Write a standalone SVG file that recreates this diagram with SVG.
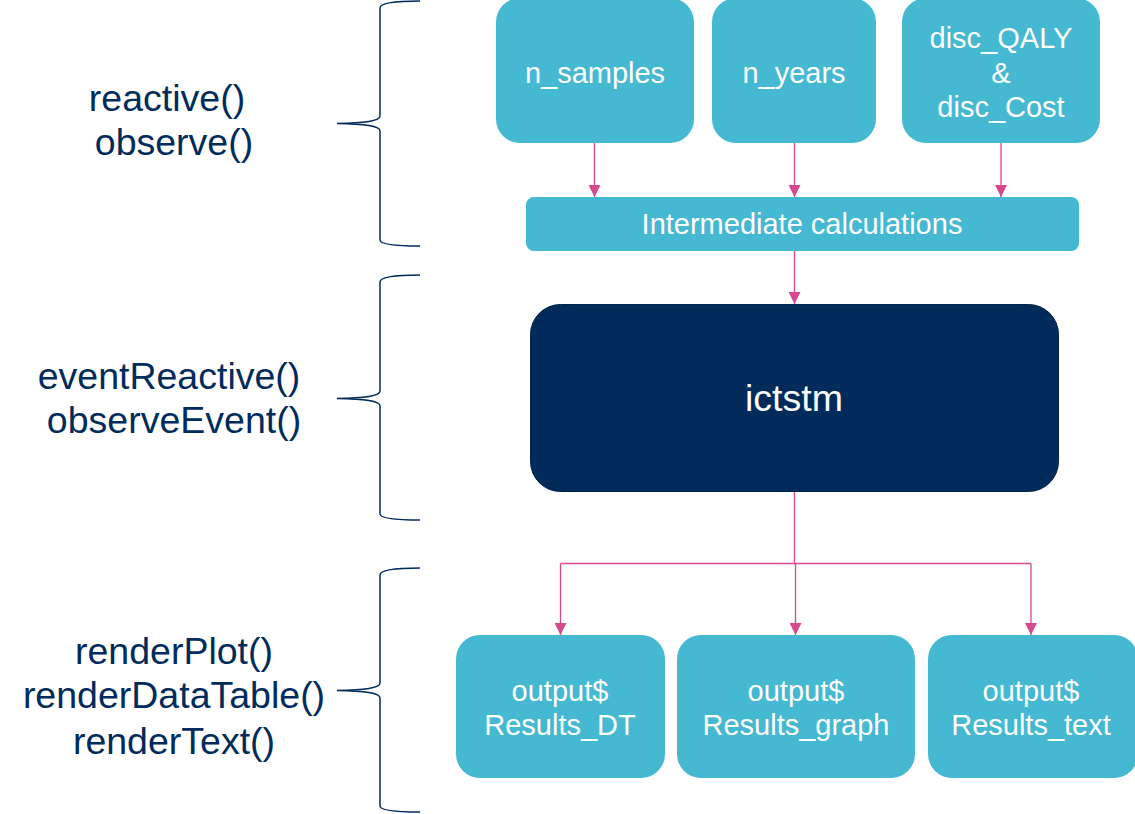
<svg xmlns="http://www.w3.org/2000/svg" width="1135" height="814" viewBox="0 0 1135 814">
  <style>
    .lbl { font-family: "Liberation Sans", Arial, sans-serif; font-size: 37.5px; fill: #002B5C; text-anchor: middle; }
    .box { fill: #45B8D2; }
    .btxt { font-family: "Liberation Sans", Arial, sans-serif; font-size: 29px; fill: #ffffff; text-anchor: middle; }
    .brace { fill: none; stroke: #002B5C; stroke-width: 1.5; }
    .conn { fill: none; stroke: #D6498F; stroke-width: 1.3; }
  </style>
  <defs>
    <marker id="arr" viewBox="0 0 12 12" refX="12" refY="6" markerWidth="12" markerHeight="12" markerUnits="userSpaceOnUse" orient="auto">
      <path d="M0,0 L12,6 L0,12 Z" fill="#D6498F"/>
    </marker>
  </defs>
  <rect width="1135" height="814" fill="#ffffff"/>

  <g id="labels">
    <text class="lbl" x="167" y="111">reactive()</text>
    <text class="lbl" x="174" y="155">observe()</text>
    <text class="lbl" x="169" y="389">eventReactive()</text>
    <text class="lbl" x="174" y="433">observeEvent()</text>
    <text class="lbl" x="174" y="664">renderPlot()</text>
    <text class="lbl" x="174" y="708">renderDataTable()</text>
    <text class="lbl" x="174" y="754">renderText()</text>
  </g>

  <g id="braces">
    <path class="brace" d="M420,1 C395,1 380,3 380,8 L380,116 C380,121 365,123 337,123.5 C365,124 380,126 380,131 L380,240 C380,244 395,246 420,246"/>
    <path class="brace" d="M420,275 C395,275 380,277 380,282 L380,391 C380,396 365,398 337,398.5 C365,399 380,401 380,406 L380,514 C380,518 395,520 420,520"/>
    <path class="brace" d="M420,568 C395,568 380,570 380,575 L380,683 C380,688 365,690 337,690.5 C365,691 380,693 380,698 L380,806 C380,810 395,812 420,812"/>
  </g>

  <g id="connectors">
    <path class="conn" d="M594.5,143 L594.5,197" marker-end="url(#arr)"/>
    <path class="conn" d="M794.5,143 L794.5,197" marker-end="url(#arr)"/>
    <path class="conn" d="M1001,143 L1001,197" marker-end="url(#arr)"/>
    <path class="conn" d="M794.5,251 L794.5,304" marker-end="url(#arr)"/>
    <path class="conn" d="M794.5,492 L794.5,563.5"/>
    <path class="conn" d="M560.5,563.5 L1031,563.5"/>
    <path class="conn" d="M560.5,563.5 L560.5,635" marker-end="url(#arr)"/>
    <path class="conn" d="M795.5,563.5 L795.5,635" marker-end="url(#arr)"/>
    <path class="conn" d="M1031,563.5 L1031,635" marker-end="url(#arr)"/>
  </g>

  <g id="n_samples">
    <rect class="box" x="496" y="-2" width="198" height="145" rx="24"/>
    <text class="btxt" x="595" y="83">n_samples</text>
  </g>
  <g id="n_years">
    <rect class="box" x="712" y="-2" width="164" height="145" rx="24"/>
    <text class="btxt" x="794" y="83">n_years</text>
  </g>
  <g id="disc">
    <rect class="box" x="902" y="-2" width="198" height="145" rx="24"/>
    <text class="btxt" x="1001" y="48">disc_QALY</text>
    <text class="btxt" x="1001" y="83">&amp;</text>
    <text class="btxt" x="1001" y="117">disc_Cost</text>
  </g>
  <g id="intermediate">
    <rect class="box" x="526" y="197" width="553" height="54" rx="8"/>
    <text class="btxt" x="802" y="234">Intermediate calculations</text>
  </g>
  <g id="ictstm">
    <rect x="530.5" y="304.5" width="528" height="187" rx="30" fill="#012B5A" stroke="#00224A" stroke-width="1"/>
    <text x="794" y="411" font-family="Liberation Sans, Arial, sans-serif" font-size="37.5" fill="#ffffff" text-anchor="middle">ictstm</text>
  </g>
  <g id="out_dt">
    <rect class="box" x="456" y="635" width="209" height="143" rx="24"/>
    <text class="btxt" x="560" y="701">output$</text>
    <text class="btxt" x="560" y="735">Results_DT</text>
  </g>
  <g id="out_graph">
    <rect class="box" x="677" y="635" width="238" height="143" rx="24"/>
    <text class="btxt" x="796" y="701">output$</text>
    <text class="btxt" x="796" y="735">Results_graph</text>
  </g>
  <g id="out_text">
    <rect class="box" x="928" y="635" width="210" height="143" rx="24"/>
    <text class="btxt" x="1031" y="701">output$</text>
    <text class="btxt" x="1031" y="735">Results_text</text>
  </g>
</svg>
